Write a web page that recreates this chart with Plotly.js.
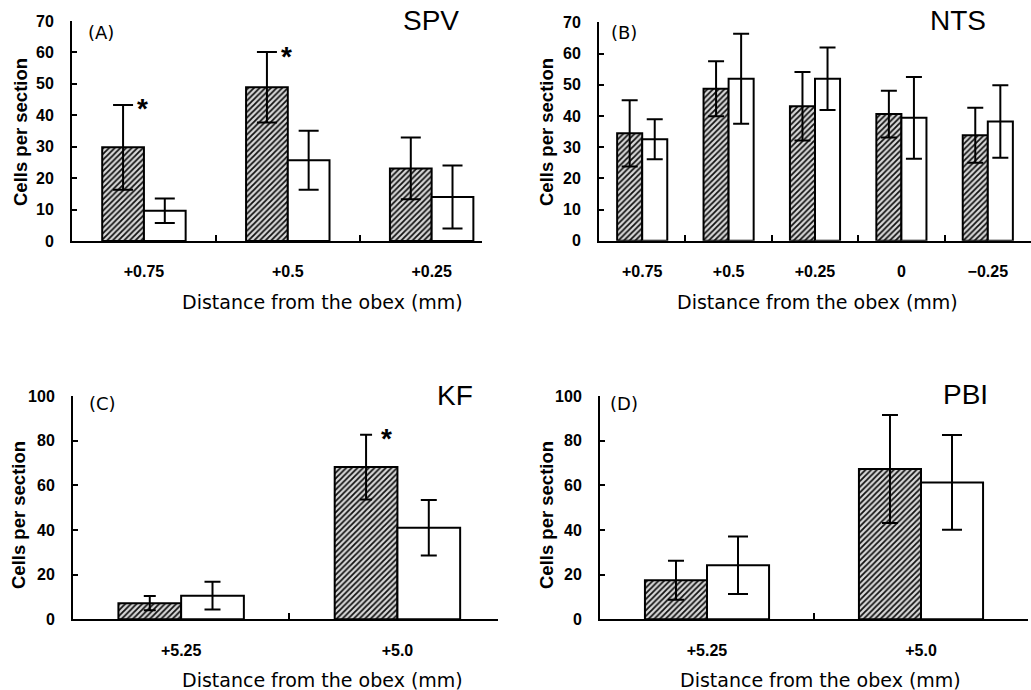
<!DOCTYPE html>
<html>
<head>
<meta charset="utf-8">
<script src="https://cdn.plot.ly/plotly-3.0.1.min.js"></script>
<style>html,body{margin:0;padding:0;background:#fff;}#chart{width:1031px;height:690px;}</style>
</head>
<body>
<div id="chart"></div>
<script>
// ---- data ----
const catsA = ['+0.75', '+0.5', '+0.25'];
const hatchA = [29.8, 48.9, 23.1];
const hatchErrA = [13.5, 11.2, 9.8];
const whiteA = [9.6, 25.7, 14.0];
const whiteErrA = [3.9, 9.4, 10.0];

const catsB = ['+0.75', '+0.5', '+0.25', '0', '\u22120.25'];
const hatchB = [34.4, 48.7, 43.1, 40.6, 33.8];
const hatchErrB = [10.6, 8.8, 11.0, 7.5, 8.8];
const whiteB = [32.5, 51.9, 51.9, 39.4, 38.2];
const whiteErrB = [6.4, 14.4, 10.0, 13.1, 11.6];

const catsC = ['+5.25', '+5.0'];
const hatchC = [7.2, 68.2];
const hatchErrC = [3.2, 14.5];
const whiteC = [10.6, 41.0];
const whiteErrC = [6.2, 12.4];

const catsD = ['+5.25', '+5.0'];
const hatchD = [17.5, 67.3];
const hatchErrD = [8.7, 24.2];
const whiteD = [24.2, 61.3];
const whiteErrD = [12.9, 21.2];

const panelLabels = ['(A)', '(B)', '(C)', '(D)'];
const regionNames = ['SPV', 'NTS', 'KF', 'PBI'];
const yTitle = 'Cells per section';
const xTitle = 'Distance from the obex (mm)';
// significance marks (hatched bars): categories carrying an asterisk
const sigCatsA = ['+0.75', '+0.5'];
const sigCatsC = ['+5.0'];

// ---- layout helpers ----
const W = 1031, H = 690;
const px = v => v / W;
const py = v => 1 - v / H;

function hatchTrace(x, y, err, xa, ya, capw) {
  return {
    type: 'bar', x: x, y: y, xaxis: xa, yaxis: ya,
    marker: {
      color: '#cfcfcf',
      line: {color: '#000', width: 2},
      pattern: {shape: '/', fgcolor: '#111', bgcolor: '#d8d8d8', size: 4, solidity: 0.45}
    },
    error_y: {type: 'data', array: err, visible: true, color: '#000', thickness: 2, width: capw},
    showlegend: false, hoverinfo: 'skip'
  };
}
function whiteTrace(x, y, err, xa, ya, capw) {
  return {
    type: 'bar', x: x, y: y, xaxis: xa, yaxis: ya,
    marker: {color: '#fff', line: {color: '#000', width: 2}},
    error_y: {type: 'data', array: err, visible: true, color: '#000', thickness: 2, width: capw},
    showlegend: false, hoverinfo: 'skip'
  };
}

const data = [
  hatchTrace(catsA, hatchA, hatchErrA, 'x', 'y', 10),
  whiteTrace(catsA, whiteA, whiteErrA, 'x', 'y', 10),
  hatchTrace(catsB, hatchB, hatchErrB, 'x2', 'y2', 8),
  whiteTrace(catsB, whiteB, whiteErrB, 'x2', 'y2', 8),
  hatchTrace(catsC, hatchC, hatchErrC, 'x3', 'y3', 6),
  whiteTrace(catsC, whiteC, whiteErrC, 'x3', 'y3', 8),
  hatchTrace(catsD, hatchD, hatchErrD, 'x4', 'y4', 8),
  whiteTrace(catsD, whiteD, whiteErrD, 'x4', 'y4', 10)
];

const tickFont = {family: 'Liberation Sans, Arial, sans-serif', size: 16, color: '#000', weight: 'bold'};

function xAxis(domain, range, anchor) {
  return {
    type: 'category', domain: domain, range: range, anchor: anchor,
    showline: true, linecolor: '#000', linewidth: 2,
    ticks: 'inside', tickson: 'boundaries', ticklen: 6, tickwidth: 2, tickcolor: '#000',
    showgrid: false, zeroline: false, fixedrange: true,
    tickfont: tickFont, ticklabelstandoff: 15
  };
}
function yAxis(domain, range, dtick, anchor) {
  return {
    domain: domain, range: range, dtick: dtick, tick0: 0, anchor: anchor,
    showline: true, linecolor: '#000', linewidth: 2,
    ticks: 'inside', ticklen: 5, tickwidth: 2, tickcolor: '#000',
    showgrid: false, zeroline: false, fixedrange: true,
    tickfont: tickFont, ticklabelstandoff: 13
  };
}

const annotations = [];
function addText(text, x, y, font, opts) {
  annotations.push(Object.assign({
    text: text, x: px(x), y: py(y), xref: 'paper', yref: 'paper',
    showarrow: false, xanchor: 'center', yanchor: 'middle', font: font
  }, opts || {}));
}
const labelFont = {family: 'DejaVu Sans, sans-serif', size: 18, color: '#000'};
const nameFont = {family: 'Liberation Sans, Arial, sans-serif', size: 28, color: '#000'};
const xtFont = {family: 'DejaVu Sans, sans-serif', size: 19, color: '#000'};
const ytFont = {family: 'Liberation Sans, Arial, sans-serif', size: 18.5, color: '#000', weight: 'bold'};

addText(panelLabels[0], 101, 32, labelFont);
addText(panelLabels[1], 624, 32, labelFont);
addText(panelLabels[2], 102, 403, labelFont);
addText(panelLabels[3], 624, 403, labelFont);
addText(regionNames[0], 431, 20, nameFont);
addText(regionNames[1], 958, 20, nameFont);
addText(regionNames[2], 455, 395, nameFont);
addText(regionNames[3], 965, 394, nameFont);
addText(xTitle, 322, 302, xtFont);
addText(xTitle, 817, 302, xtFont);
addText(xTitle, 322, 680, xtFont);
addText(xTitle, 820, 680, xtFont);
addText(yTitle, 20, 132, ytFont, {textangle: -90});
addText(yTitle, 546, 132, ytFont, {textangle: -90});
addText(yTitle, 18, 515, ytFont, {textangle: -90});
addText(yTitle, 546, 515, ytFont, {textangle: -90});

const starFont = {family: 'Liberation Sans, Arial, sans-serif', size: 28, color: '#000', weight: 'bold'};
sigCatsA.forEach(c => {
  const i = catsA.indexOf(c);
  annotations.push({text: '*', x: i, y: hatchA[i] + hatchErrA[i], xref: 'x', yref: 'y', showarrow: false,
    xanchor: 'center', yanchor: 'middle', xshift: -1, yshift: -4, font: starFont});
});
sigCatsC.forEach(c => {
  const i = catsC.indexOf(c);
  annotations.push({text: '*', x: i, y: hatchC[i] + hatchErrC[i], xref: 'x3', yref: 'y3', showarrow: false,
    xanchor: 'center', yanchor: 'middle', xshift: -11, yshift: -4, font: starFont});
});

const layout = {
  width: W, height: H,
  margin: {l: 0, r: 0, t: 0, b: 0},
  paper_bgcolor: '#fff', plot_bgcolor: 'rgba(0,0,0,0)',
  barmode: 'group', bargap: 0.42, bargroupgap: 0,
  showlegend: false,
  xaxis: xAxis([px(72), px(482)], [-0.5, 2.35], 'y'),
  yaxis: yAxis([py(241), py(21)], [0, 70], 10, 'x'),
  xaxis2: xAxis([px(599), 1], [-0.5, 4.5], 'y2'),
  yaxis2: yAxis([py(240.7), py(22.3)], [0, 70], 10, 'x2'),
  xaxis3: xAxis([px(73), px(498)], [-0.5, 1.465], 'y3'),
  yaxis3: yAxis([py(619.3), py(396)], [0, 100], 20, 'x3'),
  xaxis4: xAxis([px(600), px(1028)], [-0.5, 1.5], 'y4'),
  yaxis4: yAxis([py(619.3), py(396)], [0, 100], 20, 'x4'),
  annotations: annotations
};

Plotly.newPlot('chart', data, layout, {displayModeBar: false, staticPlot: true});
</script>
</body>
</html>
